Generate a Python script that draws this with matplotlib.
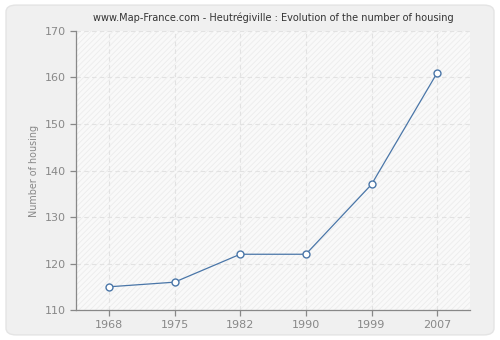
import matplotlib
matplotlib.use("Agg")
import matplotlib.pyplot as plt
from matplotlib.patches import FancyBboxPatch
import matplotlib as mpl

years = ["1968", "1975", "1982", "1990", "1999", "2007"]
housing = [115, 116, 122, 122, 137, 161]
yticks = [110, 120, 130, 140, 150, 160, 170]

mpl.rcParams['hatch.color'] = '#ebebeb'
mpl.rcParams['hatch.linewidth'] = 0.6

fig = plt.figure(figsize=(5, 3.4), dpi=100)
fig.patch.set_facecolor('white')
bg = FancyBboxPatch((0.012, 0.015), 0.976, 0.97, boxstyle="round,pad=0,rounding_size=0.02",
                    transform=fig.transFigure, facecolor='#f0f0f0', edgecolor='#e4e4e4', lw=1,
                    zorder=-10)
fig.patches.append(bg)

ax = fig.add_axes([0.152, 0.088, 0.788, 0.821])
ax.set_facecolor('#f9f9f9')
ax.add_patch(plt.Rectangle((0, 0), 1, 1, transform=ax.transAxes, facecolor='none',
                           hatch='//////', edgecolor='#ececec', lw=0, zorder=0))

x = list(range(len(years)))
ax.plot(x, housing, color='#4a76a8', lw=0.9, marker='o', markersize=5,
        markerfacecolor='white', markeredgecolor='#4a76a8', markeredgewidth=1.0, zorder=3)

ax.set_xlim(-0.5, len(years) - 0.5)
ax.set_ylim(110, 170)
ax.set_xticks(x)
ax.set_xticklabels(years)
ax.set_yticks(yticks)
ax.grid(True, color='#e2e2e2', linestyle=(0, (4, 3)), lw=0.8)
ax.set_axisbelow(True)
for s in ['top', 'right']:
    ax.spines[s].set_visible(False)
for s in ['left', 'bottom']:
    ax.spines[s].set_color('#888888')
    ax.spines[s].set_linewidth(0.9)
ax.tick_params(colors='#888888', labelsize=8, length=4, width=0.9, labelcolor='#888888')
ax.set_ylabel('Number of housing', fontsize=6.9, color='#888888', labelpad=4)
ax.set_title('www.Map-France.com - Heutrégiville : Evolution of the number of housing',
             fontsize=7.0, color='#333333', pad=7)

fig.savefig('out.png', dpi=100, facecolor=fig.get_facecolor())
